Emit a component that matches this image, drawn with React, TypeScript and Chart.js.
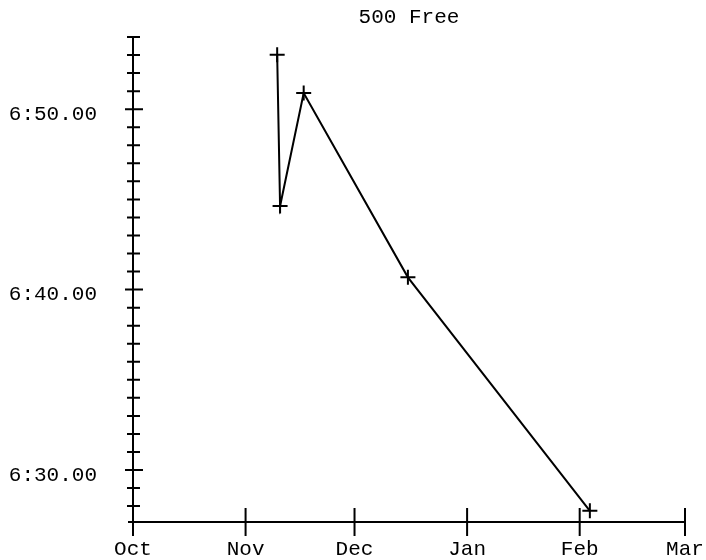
import React, { useEffect, useRef } from 'react';
import { Chart, registerables } from 'chart.js';

Chart.register(...registerables);

const chartTitle = '500 Free';
const monthLabels = ['Oct', 'Nov', 'Dec', 'Jan', 'Feb', 'Mar'];
// days since Oct 1 (2023-2024 season, leap February)
const monthStartDays = [0, 31, 61, 92, 123, 152];
// swim dates as days since Oct 1
const swimDays = [39.7, 40.5, 47.0, 75.7, 125.8];
// swim times in seconds
const swimTimes = [413.02, 404.63, 410.89, 400.68, 387.74];
const yMin = 387.12;
const yMax = 414;
const yStep = 1;
const majorEvery = 10;

const FONT = 'Liberation Mono';

function fmtTime(sec: number): string {
  const m = Math.floor(sec / 60);
  const s = sec - m * 60;
  return `${m}:${s.toFixed(2).padStart(5, '0')}`;
}

const isMajor = (v: number) => Math.round(v) % majorEvery === 0;

const axesPlugin = {
  id: 'customAxes',
  afterDatasetsDraw(chart: any) {
    const { ctx, chartArea } = chart;
    const x = chart.scales.x;
    const y = chart.scales.y;
    const ax = chartArea.left;
    const ay = chartArea.bottom;
    ctx.save();
    ctx.strokeStyle = '#000';
    ctx.lineWidth = 2;
    ctx.lineCap = 'butt';
    ctx.beginPath();
    // y axis line
    ctx.moveTo(ax, y.getPixelForValue(yMax) - 1);
    ctx.lineTo(ax, ay + 14);
    // x axis line
    ctx.moveTo(ax - 5, ay);
    ctx.lineTo(x.getPixelForValue(monthStartDays[monthStartDays.length - 1]) + 1, ay);
    // y ticks
    y.ticks.forEach((t: any) => {
      const py = y.getPixelForValue(t.value);
      const major = isMajor(t.value);
      ctx.moveTo(ax - (major ? 8 : 6), py);
      ctx.lineTo(ax + (major ? 10 : 7), py);
    });
    // x ticks
    x.ticks.forEach((t: any) => {
      const px = x.getPixelForValue(t.value);
      ctx.moveTo(px, ay - 14);
      ctx.lineTo(px, ay + 14);
    });
    ctx.stroke();
    ctx.restore();
  },
};

export default function App() {
  const canvasRef = useRef<HTMLCanvasElement | null>(null);

  useEffect(() => {
    const canvas = canvasRef.current;
    if (!canvas) return;
    const chart = new Chart(canvas, {
      type: 'line',
      data: {
        datasets: [
          {
            data: swimDays.map((d, i) => ({ x: d, y: swimTimes[i] })),
            borderColor: '#000',
            borderWidth: 2,
            pointStyle: 'cross',
            pointRadius: 7.5,
            pointBorderWidth: 2,
            pointBorderColor: '#000',
            pointBackgroundColor: '#000',
            tension: 0,
            fill: false,
          },
        ],
      },
      options: {
        responsive: false,
        animation: false,
        devicePixelRatio: 1,
        layout: { padding: { left: 0, right: 21, top: 0, bottom: 0 } },
        plugins: {
          legend: { display: false },
          tooltip: { enabled: false },
          title: {
            display: true,
            text: chartTitle,
            fullSize: false,
            color: '#000',
            font: { family: FONT, size: 21, weight: 'normal', lineHeight: 1.2 },
            padding: { top: 5, bottom: 6.8 },
          },
        },
        scales: {
          x: {
            type: 'linear',
            min: monthStartDays[0],
            max: monthStartDays[monthStartDays.length - 1],
            afterBuildTicks: (s: any) => {
              s.ticks = monthStartDays.map((v) => ({ value: v }));
            },
            afterFit: (s: any) => {
              s.height = 38;
              s.paddingLeft = 0;
              s.paddingRight = 0;
            },
            ticks: {
              autoSkip: false,
              maxRotation: 0,
              minRotation: 0,
              padding: 15,
              color: '#000',
              font: { family: FONT, size: 21 },
              callback: (v: any) => monthLabels[monthStartDays.indexOf(Number(v))],
            },
            grid: { display: false, drawTicks: false, tickLength: 0 },
            border: { display: false },
          },
          y: {
            type: 'linear',
            min: yMin,
            max: yMax,
            afterBuildTicks: (s: any) => {
              const ticks: any[] = [];
              for (let v = Math.ceil(yMin); v <= yMax; v += yStep) ticks.push({ value: v });
              s.ticks = ticks;
            },
            afterFit: (s: any) => {
              s.width = 133;
              s.paddingTop = 0;
              s.paddingBottom = 0;
            },
            ticks: {
              autoSkip: false,
              padding: 36,
              labelOffset: 5,
              color: '#000',
              font: { family: FONT, size: 21 },
              callback: (v: any) => (isMajor(Number(v)) ? fmtTime(Number(v)) : ''),
            },
            grid: { display: false, drawTicks: false, tickLength: 0 },
            border: { display: false },
          },
        },
      },
      plugins: [axesPlugin],
    } as any);
    return () => chart.destroy();
  }, []);

  return (
    <div style={{ position: 'fixed', left: 0, top: 0, width: 706, height: 560, background: '#fff' }}>
      <canvas ref={canvasRef} width={706} height={560} />
    </div>
  );
}
